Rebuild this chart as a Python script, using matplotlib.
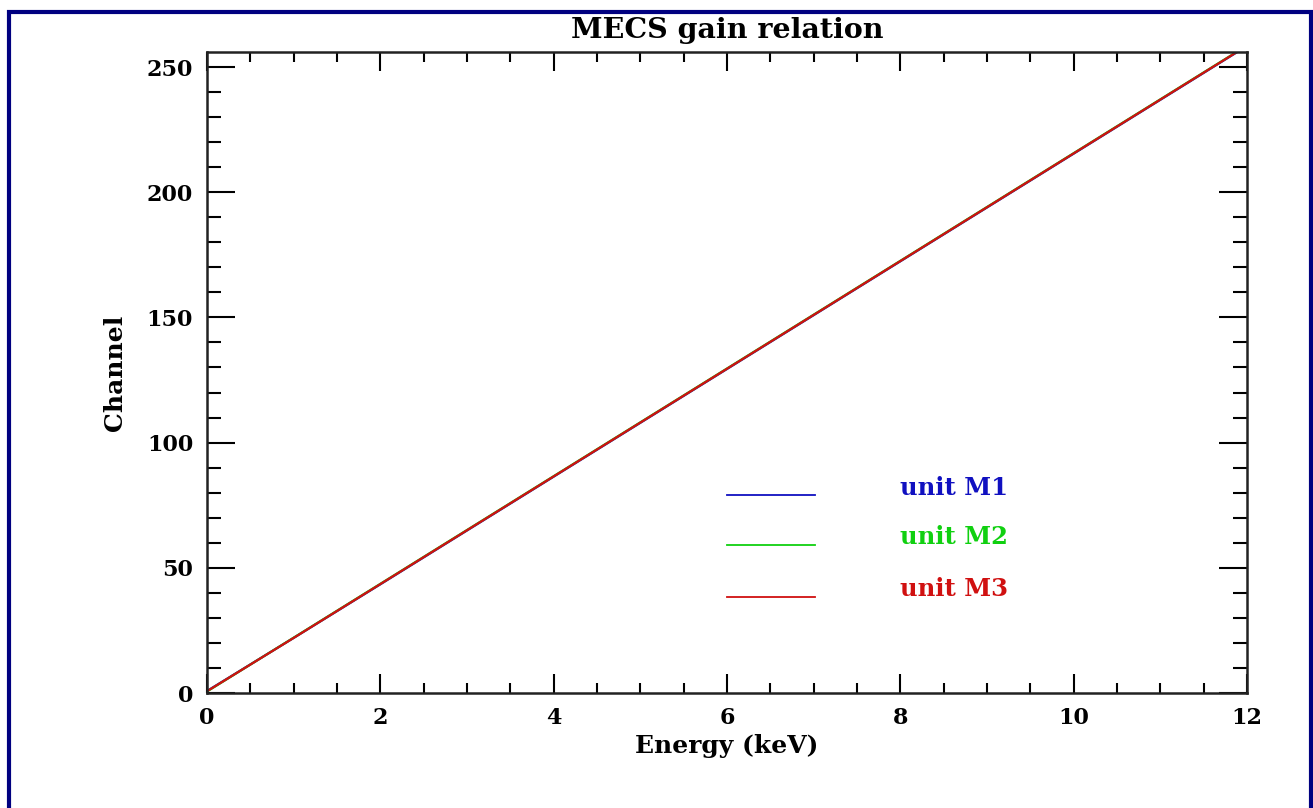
import matplotlib
matplotlib.use("Agg")
from matplotlib import pyplot as plt
from matplotlib.patches import Rectangle

# gain relation: energy (keV) vs channel for each unit
energy = [0, 1, 2, 3, 4, 5, 6, 7, 8, 9, 10, 11, 12]
channel_m1 = [0.8, 22.0, 43.4, 64.9, 86.4, 107.9, 129.4, 150.9, 172.4, 193.9, 215.4, 236.9, 258.4]
channel_m2 = [0.6, 22.1, 43.6, 65.1, 86.6, 108.1, 129.6, 151.1, 172.6, 194.1, 215.6, 237.1, 258.6]
channel_m3 = [0.7, 22.0, 43.5, 65.0, 86.5, 108.0, 129.5, 151.0, 172.5, 194.0, 215.5, 237.0, 258.5]

units = ["unit M1", "unit M2", "unit M3"]
colors = ["#1010c0", "#10d010", "#d01010"]
series = [channel_m1, channel_m2, channel_m3]

font = {"family": "DejaVu Serif", "weight": "bold"}

fig = plt.figure(figsize=(13.13, 8.08), dpi=100)
ax = fig.add_axes([207/1313, 1 - 693/808, 1040/1313, 641/808])

#the three gain curves lie almost on top of each other
for ch, c in zip(series, colors):
    ax.plot(energy, ch, color=c, lw=1.6, clip_on=True)

#hand drawn legend: short line + coloured text
leg_y_line = [79, 59, 38.5]
leg_y_text = [82, 62.3, 41.5]
for name, c, yl, yt in zip(units, colors, leg_y_line, leg_y_text):
    ax.plot([6.0, 7.02], [yl, yl], color=c, lw=1.3)
    ax.text(8.0, yt, name, color=c, fontsize=17.5, va="center", ha="left", **font)

ax.set_xlim(0, 12)
ax.set_ylim(0, 256)
ax.set_xticks(range(0, 13, 2))
ax.set_xticks([i * 0.5 for i in range(25)], minor=True)
ax.set_yticks(range(0, 251, 50))
ax.set_yticks(range(0, 257, 10), minor=True)

ax.tick_params(axis="both", which="both", direction="in", top=True, right=True, width=1.5, pad=10)
ax.tick_params(axis="x", which="major", length=14)
ax.tick_params(axis="x", which="minor", length=7)
ax.tick_params(axis="y", which="major", length=20)
ax.tick_params(axis="y", which="minor", length=10)
for s in ax.spines.values():
    s.set_linewidth(1.8)
    s.set_color("#222222")

for lab in ax.get_xticklabels() + ax.get_yticklabels():
    lab.set_fontfamily("DejaVu Serif")
    lab.set_fontweight("bold")
    lab.set_fontsize(16)

ax.set_xlabel("Energy (keV)", fontsize=18, labelpad=4, **font)
ax.set_ylabel("Channel", fontsize=18, labelpad=14, **font)
ax.set_title("MECS gain relation", fontsize=20.5, pad=10, **font)

#navy frame around the whole picture
fig.patches.append(Rectangle((8.5/1313, -0.05), 1302/1313, 1 - 12/808 + 0.05,
                             transform=fig.transFigure, fill=False,
                             edgecolor="#000080", lw=3))

fig.savefig("out.png", dpi=100)
